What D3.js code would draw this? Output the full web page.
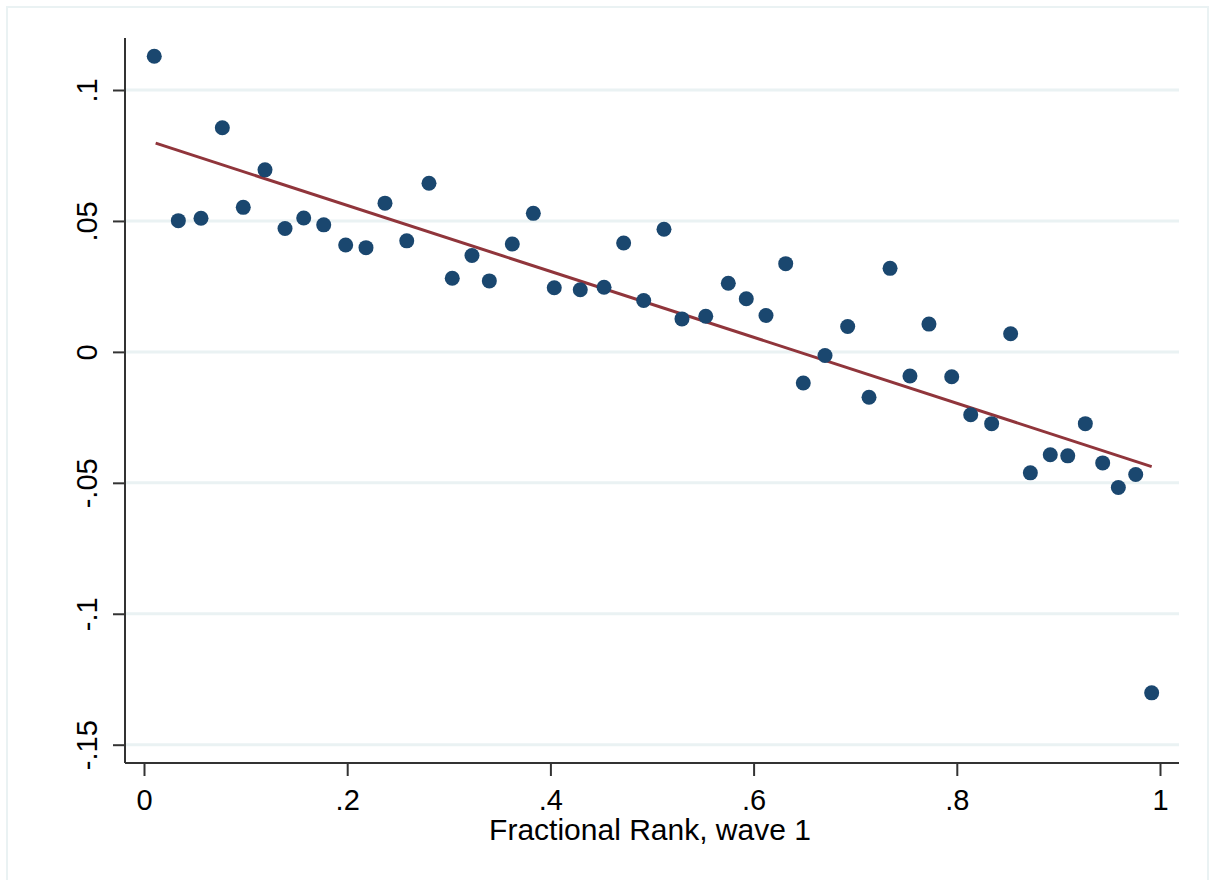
<!DOCTYPE html>
<html>
<head>
<meta charset="utf-8">
<script src="https://cdn.jsdelivr.net/npm/d3@7"></script>
<style>
  body { margin: 0; background: #fff; }
  svg { display: block; font-family: "Liberation Sans", Arial, sans-serif; }
</style>
</head>
<body>
<svg id="chart" width="1209" height="880"></svg>
<script>
// binned scatter
var rankX = [0.0101,0.0338,0.0561,0.0771,0.0977,0.1191,0.1388,0.1572,0.1769,0.1985,
             0.2185,0.2372,0.2586,0.2805,0.3034,0.3228,0.3399,0.3625,0.3832,0.4038,
             0.4294,0.4528,0.4721,0.4918,0.5118,0.5295,0.5529,0.5751,0.5928,0.6122,
             0.6316,0.6489,0.6703,0.6926,0.7136,0.7343,0.7539,0.7726,0.7950,0.8137,
             0.8343,0.8530,0.8724,0.8920,0.9092,0.9265,0.9436,0.9590,0.9761,0.9918];
var valueY = [0.1129,0.0501,0.0510,0.0856,0.0552,0.0695,0.0471,0.0511,0.0485,0.0408,
              0.0398,0.0568,0.0424,0.0644,0.0281,0.0368,0.0271,0.0412,0.0529,0.0245,
              0.0237,0.0247,0.0416,0.0196,0.0468,0.0126,0.0136,0.0262,0.0203,0.0139,
              0.0337,-0.0119,-0.0014,0.0097,-0.0173,0.0319,-0.0092,0.0106,-0.0095,-0.0240,
              -0.0274,0.0069,-0.0462,-0.0393,-0.0397,-0.0274,-0.0424,-0.0518,-0.0468,-0.1302];
// linear fit end points
var fitX = [0.0115, 0.9918];
var fitY = [0.0797, -0.0438];

var xTicks = [0, 0.2, 0.4, 0.6, 0.8, 1];
var xTickLabels = ["0", ".2", ".4", ".6", ".8", "1"];
var yTicks = [-0.15, -0.1, -0.05, 0, 0.05, 0.1];
var yTickLabels = ["-.15", "-.1", "-.05", "0", ".05", ".1"];
var xTitle = "Fractional Rank, wave 1";

var svg = d3.select("#chart");
var plot = {left: 125, right: 1179, top: 38, bottom: 763};
var fontSize = 29;

var x = d3.scaleLinear().domain([0, 1]).range([144, 1160]);
var y = d3.scaleLinear().domain([-0.15, 0.1]).range([744.7, 90]);

// outer frame
svg.append("rect")
    .attr("x", 7).attr("y", 7)
    .attr("width", 1201).attr("height", 900)
    .attr("fill", "none")
    .attr("stroke", "#eaf2f3")
    .attr("stroke-width", 2);

// grid
svg.append("g").attr("class", "grid")
  .selectAll("line").data(yTicks)
  .enter().append("line")
    .attr("x1", plot.left).attr("x2", plot.right)
    .attr("y1", function(d){ return y(d); })
    .attr("y2", function(d){ return y(d); })
    .attr("stroke", "#eaf2f3")
    .attr("stroke-width", 3);

// fit line
var line = d3.line()
    .x(function(d){ return x(d[0]); })
    .y(function(d){ return y(d[1]); });
svg.append("path")
    .attr("d", line(d3.zip(fitX, fitY)))
    .attr("fill", "none")
    .attr("stroke", "#90353b")
    .attr("stroke-width", 3);

// points
svg.append("g").attr("class", "dots")
  .selectAll("circle").data(d3.zip(rankX, valueY))
  .enter().append("circle")
    .attr("cx", function(d){ return x(d[0]); })
    .attr("cy", function(d){ return y(d[1]); })
    .attr("r", 7.5)
    .attr("fill", "#1a476f");

// y axis
var gy = svg.append("g")
    .attr("transform", "translate(" + plot.left + ",0)")
    .call(d3.axisLeft(y).tickValues(yTicks)
        .tickFormat(function(d, i){ return yTickLabels[i]; })
        .tickSize(12));
gy.select(".domain").remove();
gy.append("line")
    .attr("y1", plot.top).attr("y2", plot.bottom)
    .attr("stroke", "#333").attr("stroke-width", 2);
gy.selectAll(".tick line").attr("stroke", "#333").attr("stroke-width", 2);
gy.selectAll(".tick text")
    .attr("transform", "rotate(-90)")
    .attr("x", 0).attr("y", -28).attr("dy", 0)
    .attr("text-anchor", "middle")
    .attr("fill", "#000")
    .style("font-size", fontSize + "px")
    .style("font-family", "Liberation Sans, Arial, sans-serif");

// x axis
var gx = svg.append("g")
    .attr("transform", "translate(0," + plot.bottom + ")")
    .call(d3.axisBottom(x).tickValues(xTicks)
        .tickFormat(function(d, i){ return xTickLabels[i]; })
        .tickSize(13));
gx.select(".domain").remove();
gx.append("line")
    .attr("x1", plot.left).attr("x2", plot.right)
    .attr("stroke", "#333").attr("stroke-width", 2);
gx.selectAll(".tick line").attr("stroke", "#333").attr("stroke-width", 2);
gx.selectAll(".tick text")
    .attr("y", 47).attr("dy", 0)
    .attr("fill", "#000")
    .style("font-size", fontSize + "px")
    .style("font-family", "Liberation Sans, Arial, sans-serif");

svg.append("text")
    .attr("x", 650).attr("y", 840)
    .attr("text-anchor", "middle")
    .style("font-size", "30px")
    .text(xTitle);
</script>
</body>
</html>
